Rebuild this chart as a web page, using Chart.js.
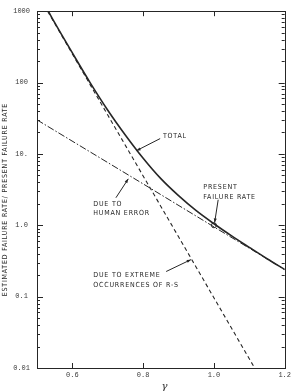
<!DOCTYPE html>
<html>
<head>
<meta charset="utf-8">
<script src="https://cdn.jsdelivr.net/npm/chart.js@4.4.1/dist/chart.umd.min.js"></script>
<style>
  html, body { margin: 0; padding: 0; background: #fff; }
  #wrap { width: 294px; height: 391px; }
</style>
</head>
<body>
<div id="wrap"><canvas id="chart" width="294" height="391"></canvas></div>
<script>
// values (gamma on x, rate ratio on log y)
const gammaTotal = [0.532, 0.55, 0.6, 0.65, 0.7, 0.75, 0.8, 0.85, 0.9, 0.95, 1.0, 1.05, 1.1, 1.15, 1.2];
const rateTotal = [1000, 690, 260, 100, 41, 18.3, 8.7, 4.5, 2.6, 1.6, 1.05, 0.71, 0.49, 0.34, 0.24];

const gammaExtreme = [0.53, 0.7, 0.9, 1.115];
const rateExtreme = [1000, 35, 0.69, 0.01];

const gammaHuman = [0.5, 0.8, 1.0, 1.2];
const rateHuman = [30, 3.8, 0.95, 0.24];

const presentGamma = [1.0];
const presentRate = [1.0];

const xTicks = [0.6, 0.8, 1.0, 1.2];
const yTicks = [1000, 100, 10, 1, 0.1, 0.01];
const yTickLabels = ['1000', '100', '10.', '1.0', '0.1', '0.01'];

const yTitle = 'ESTIMATED FAILURE RATE/ PRESENT FAILURE RATE';

// annotation texts and leader arrows, placed in data units
const notes = [
  { lines: ['TOTAL'], at: [0.856, 17.6] },
  { lines: ['PRESENT', 'FAILURE RATE'], at: [0.970, 3.38] },
  { lines: ['DUE TO', 'HUMAN ERROR'], at: [0.659, 2.0] },
  { lines: ['DUE TO EXTREME', 'OCCURRENCES OF R-S'], at: [0.659, 0.198] }
];
const arrows = [
  { from: [0.848, 16.4], to: [0.781, 11.1] },
  { from: [1.012, 2.28], to: [1.002, 1.09] },
  { from: [0.723, 2.43], to: [0.758, 4.47] },
  { from: [0.865, 0.225], to: [0.935, 0.33] }
];

const ink = '#262626';
const pts = (xs, ys) => xs.map((v, i) => ({ x: v, y: ys[i] }));

const frameAndNotes = {
  id: 'frameAndNotes',
  afterDatasetsDraw(chart) {
    const { ctx, chartArea: a, scales: { x, y } } = chart;
    ctx.save();
    ctx.strokeStyle = ink;
    ctx.fillStyle = ink;
    ctx.lineWidth = 1;
    ctx.strokeRect(Math.round(a.left) + 0.5, Math.round(a.top) + 0.5,
      Math.round(a.right - a.left), Math.round(a.bottom - a.top));

    // inward ticks
    ctx.beginPath();
    xTicks.forEach(v => {
      const px = Math.round(x.getPixelForValue(v)) + 0.5;
      if (px > a.right - 2) return;
      ctx.moveTo(px, a.bottom); ctx.lineTo(px, a.bottom - 5);
      ctx.moveTo(px, a.top); ctx.lineTo(px, a.top + 5);
    });
    for (let d = -2; d <= 2; d++) {
      for (let m = 1; m <= 9; m++) {
        const py = Math.round(y.getPixelForValue(m * Math.pow(10, d))) + 0.5;
        const len = m === 1 ? 6 : 3;
        ctx.moveTo(a.left, py); ctx.lineTo(a.left + len, py);
        ctx.moveTo(a.right, py); ctx.lineTo(a.right - len, py);
      }
    }
    ctx.stroke();

    // leader arrows
    arrows.forEach(ar => {
      const x1 = x.getPixelForValue(ar.from[0]), y1 = y.getPixelForValue(ar.from[1]);
      const x2 = x.getPixelForValue(ar.to[0]), y2 = y.getPixelForValue(ar.to[1]);
      ctx.beginPath();
      ctx.moveTo(x1, y1); ctx.lineTo(x2, y2);
      ctx.stroke();
      const ang = Math.atan2(y2 - y1, x2 - x1);
      ctx.beginPath();
      ctx.moveTo(x2, y2);
      ctx.lineTo(x2 - 4.5 * Math.cos(ang - 0.35), y2 - 4.5 * Math.sin(ang - 0.35));
      ctx.lineTo(x2 - 4.5 * Math.cos(ang + 0.35), y2 - 4.5 * Math.sin(ang + 0.35));
      ctx.closePath();
      ctx.fill();
    });

    // annotation texts
    ctx.font = '7px "DejaVu Sans Condensed", "DejaVu Sans", sans-serif';
    ctx.letterSpacing = '0.8px';
    ctx.textBaseline = 'middle';
    ctx.textAlign = 'left';
    notes.forEach(n => {
      const px = x.getPixelForValue(n.at[0]);
      const py = y.getPixelForValue(n.at[1]);
      n.lines.forEach((t, i) => ctx.fillText(t, px, py + i * 9.5));
    });

    // y axis title
    ctx.save();
    ctx.translate(5, (a.top + a.bottom) / 2 + 10);
    ctx.rotate(-Math.PI / 2);
    ctx.textAlign = 'center';
    ctx.fillText(yTitle, 0, 0);
    ctx.restore();

    // x axis title
    ctx.letterSpacing = '0px';
    ctx.font = 'italic 10px "DejaVu Serif", serif';
    ctx.textAlign = 'center';
    ctx.fillText('\u03B3', x.getPixelForValue(0.86), 386);
    ctx.restore();
  }
};

new Chart(document.getElementById('chart'), {
  type: 'line',
  data: {
    datasets: [
      {
        label: 'Total',
        data: pts(gammaTotal, rateTotal),
        borderColor: ink, borderWidth: 1.6,
        pointRadius: 0, cubicInterpolationMode: 'monotone'
      },
      {
        label: 'Due to extreme occurrences of R-S',
        data: pts(gammaExtreme, rateExtreme),
        borderColor: ink, borderWidth: 1.1, borderDash: [4, 3],
        pointRadius: 0, tension: 0
      },
      {
        label: 'Due to human error',
        data: pts(gammaHuman, rateHuman),
        borderColor: ink, borderWidth: 1, borderDash: [7, 2, 1.5, 2],
        pointRadius: 0, tension: 0
      },
      {
        label: 'Present failure rate',
        data: pts(presentGamma, presentRate),
        showLine: false,
        pointRadius: 2.5, pointBorderWidth: 1,
        pointBackgroundColor: '#fff', pointBorderColor: ink
      }
    ]
  },
  options: {
    responsive: false,
    animation: false,
    devicePixelRatio: 1,
    layout: { padding: { top: 9.5, right: 6, left: 0, bottom: 0 } },
    plugins: { legend: { display: false }, tooltip: { enabled: false } },
    scales: {
      x: {
        type: 'linear', min: 0.5, max: 1.2,
        grid: { display: false, drawTicks: false },
        border: { display: false },
        afterBuildTicks: s => { s.ticks = xTicks.map(v => ({ value: v })); },
        afterFit: s => { s.height = 23; },
        ticks: {
          padding: 3, maxRotation: 0, color: '#3a3a3a',
          font: { family: '"Liberation Mono", monospace', size: 7 },
          callback: v => v.toFixed(1)
        }
      },
      y: {
        type: 'logarithmic', min: 0.01, max: 1000,
        grid: { display: false, drawTicks: false },
        border: { display: false },
        afterBuildTicks: s => { s.ticks = yTicks.map(v => ({ value: v })); },
        afterFit: s => { s.width = 37; },
        ticks: {
          padding: 7, crossAlign: 'center', color: '#3a3a3a',
          font: { family: '"Liberation Mono", monospace', size: 7 },
          callback: v => yTickLabels[yTicks.indexOf(v)] ?? ''
        }
      }
    }
  },
  plugins: [frameAndNotes]
});
</script>
</body>
</html>
